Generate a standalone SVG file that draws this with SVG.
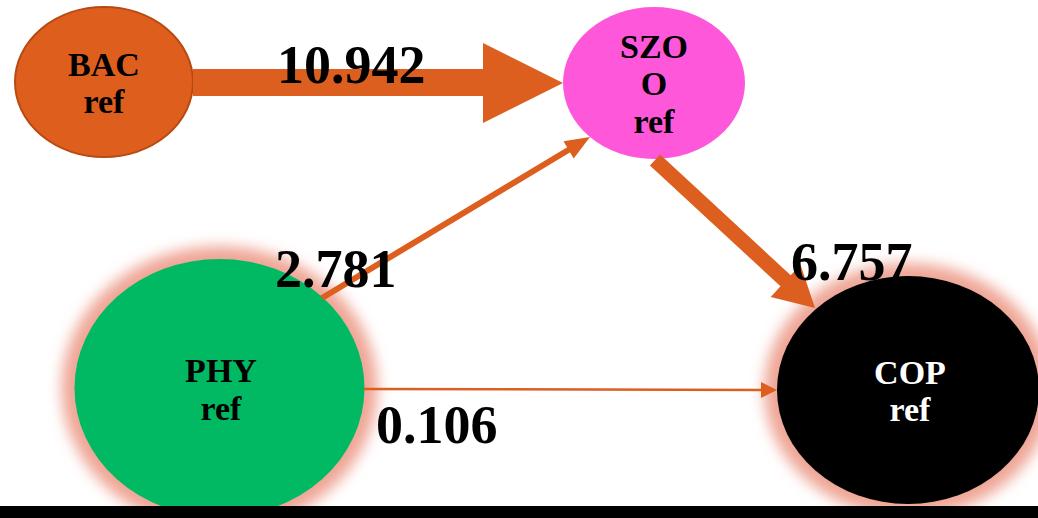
<svg xmlns="http://www.w3.org/2000/svg" width="1038" height="518" viewBox="0 0 1038 518">
  <defs>
    <filter id="blur" x="-30%" y="-30%" width="160%" height="160%">
      <feGaussianBlur stdDeviation="7"/>
    </filter>
    <style>
      .lbl { font-family: "Liberation Serif", "Times New Roman", serif; font-weight: bold; font-size: 34px; text-anchor: middle; }
      .num { font-family: "Liberation Serif", "Times New Roman", serif; font-weight: bold; font-size: 54px; fill: #000; }
      .arrow { fill: #DD5F1F; }
      .line { stroke: #DD5F1F; fill: none; }
      .glow { fill: #EFA696; filter: url(#blur); }
    </style>
  </defs>
  <rect x="0" y="0" width="1038" height="518" fill="#ffffff"/>

  <g id="node-bac">
    <ellipse cx="104" cy="82" rx="89" ry="75" fill="#DE5E1E" stroke="#B84912" stroke-width="2"/>
    <text class="lbl" x="104" y="76">BAC</text>
    <text class="lbl" x="104" y="113">ref</text>
  </g>

  <g id="node-szoo">
    <ellipse cx="654" cy="83" rx="91" ry="76" fill="#FF57D9"/>
    <text class="lbl" x="654" y="58">SZO</text>
    <text class="lbl" x="654" y="95">O</text>
    <text class="lbl" x="654" y="133">ref</text>
  </g>

  <g id="node-phy">
    <ellipse class="glow" cx="219.5" cy="388" rx="158" ry="142"/>
    <ellipse cx="219.5" cy="388" rx="145" ry="129" fill="#00B962"/>
    <text class="lbl" x="221" y="382">PHY</text>
    <text class="lbl" x="221" y="420">ref</text>
  </g>

  <g id="node-cop">
    <ellipse class="glow" cx="908" cy="390" rx="144" ry="127"/>
    <ellipse cx="908" cy="390" rx="131" ry="114" fill="#000000"/>
    <text class="lbl" x="910" y="384" fill="#ffffff">COP</text>
    <text class="lbl" x="910" y="421" fill="#ffffff">ref</text>
  </g>

  <g id="connectors">
    <polygon class="arrow" points="193,69 483,69 483,43 563,83 483,123 483,96 193,96"/>
    <line class="line" x1="322" y1="298" x2="570" y2="149" stroke-width="6"/>
    <polygon class="arrow" points="590,137 573.7,158.5 563.5,141.3"/>
    <polygon class="arrow" points="660.1,154.5 790.7,275.3 800.5,264.7 815,308 770.7,297 780.5,286.3 649.9,165.5"/>
    <line class="line" x1="364" y1="389" x2="763" y2="390" stroke-width="2.5"/>
    <polygon class="arrow" points="761,382 777,390 761,398"/>
  </g>

  <g id="labels">
    <text class="num" x="277" y="83">10.942</text>
    <text class="num" x="275" y="287">2.781</text>
    <text class="num" x="791" y="280">6.757</text>
    <text class="num" x="376" y="443">0.106</text>
  </g>

  <rect id="bottom-bar" x="0" y="506" width="1038" height="12" fill="#000000"/>
</svg>
